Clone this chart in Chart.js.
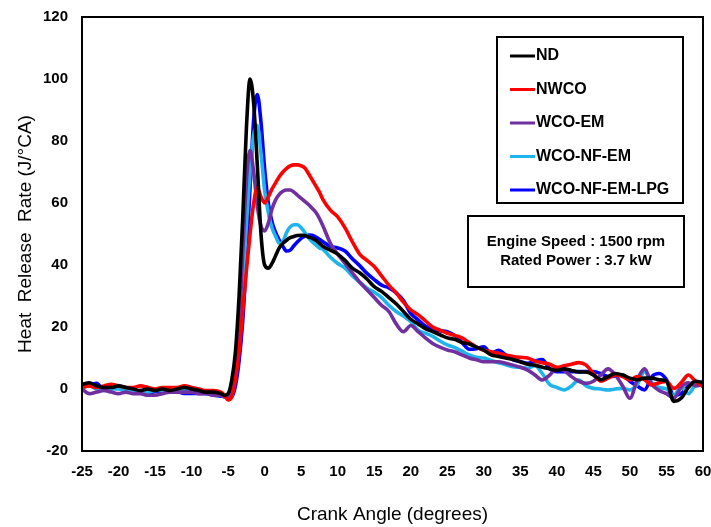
<!DOCTYPE html>
<html>
<head>
<meta charset="utf-8">
<script src="https://cdn.jsdelivr.net/npm/chart.js@4.4.1/dist/chart.umd.min.js"></script>
<style>
  html, body { margin: 0; padding: 0; background: #fff; }
  #wrap { width: 711px; height: 527px; }
</style>
</head>
<body>
<div id="wrap"><canvas id="hrr" width="711" height="527"></canvas></div>
<script>
// Crank angle grid (degrees): coarse before ignition, fine around the peak, 1 deg afterwards
const crankAngle = [
  -25,-24,-23,-22,-21,-20,-19,-18,-17,-16,-15,-14,-13,-12,-11,-10,-9,-8,-7,-6,
  -5.5,-5,-4.5,-4,-3.5,-3,-2.5,-2,-1.5,-1,-0.5,0,0.5,1,1.5,2,2.5,3,3.5,4,4.5,5,5.5,6,6.5,7,7.5,8,
  9,10,11,12,13,14,15,16,17,18,19,20,21,22,23,24,25,26,27,28,29,30,31,32,33,34,
  35,36,37,38,39,40,41,42,43,44,45,46,47,48,49,50,51,52,53,54,55,56,57,58,59,60
];

// Heat release rate (J/°CA) for each fuel
const hrrND = [
  1.5,2.0,1.0,0.5,0.5,1.0,0.5,0.0,-0.5,0.0,-0.5,0.0,-0.5,0.0,0.5,0.0,-0.5,-1.0,-1.0,-1.5,
  -2.0,-1.5,3,12,30,55,84,100,92,72,50,40,39,40.5,43,45.5,47,48,48.8,49.2,49.5,49.6,49.5,49,48.6,48,47,46,
  44.8,43.5,41.5,39,37.5,35.5,33,31.5,29.5,27.5,25,22.5,21,19.5,18.5,17.5,16.5,16,15,14.5,13.5,12.5,11,10.5,10,9.5,
  8.8,8,7.7,7,6.5,6,6.5,6,5.5,5.5,4.5,3,4,5,4.5,3.5,3,3.5,3.5,3,2.5,-4,-3,0.5,2.5,2
];
const hrrNWCO = [
  0.5,1.0,0.5,1.0,1.5,1.0,0.5,0.5,1.0,0.5,0.0,0.5,0.5,0.5,1.0,0.5,0.0,-0.5,-0.5,-1.0,
  -2,-3.5,-2.5,3,12,25,38,50,60,65,62,60,62,64.5,66.5,68.5,70,71.2,72,72.3,72.3,72,71.3,69.5,67.5,65.5,63.5,61,
  57.7,55.5,52,47.5,43.5,41.5,39.5,36.5,33.5,31,28,25.5,24,22,20,19,18,17.3,16.5,15,13.5,12.5,12,11.5,11,10.5,
  10.2,10,9,8.5,8,7,7.5,8,8.5,7.7,5,2.5,3.5,4.5,4,2.9,4,3,1.3,2,2.4,0.2,2,4.5,2.4,0.8
];
const hrrWCOEM = [
  0,-1.5,-1,-0.5,-1,-1.5,-1,-1.5,-1.5,-2,-2,-1.5,-1,-1,-1,-1,-1.5,-1.5,-2,-2,
  -2.5,-2.5,0,6,20,44,67,77,70,59,52.5,51,53.5,58,61,62.8,63.8,64.2,64.2,63.5,62.5,61.5,60.5,59.5,58.3,57,55,52.5,
  47,43.5,40.5,37.5,34.5,32,29.5,27,25,21,18.5,20.5,18.5,16.5,14.7,13.5,12.6,12,11,10,9.4,8.8,8.8,8.8,8.3,7.7,
  7,6.1,4.5,2.9,4.5,6.7,6,4,2.5,1.8,2.5,4.5,6.5,4.5,1,-3,3,6.5,1.5,-0.5,-1.5,-3,0.5,2,1,1.5
];
const hrrWCONFEM = [
  0.5,1.0,0.0,-0.5,0.0,0.0,-0.5,-0.5,-1.0,-1.0,-0.5,-0.5,-1.0,-1.0,-0.5,-1.0,-1.0,-1.5,-1.5,-2.0,
  -2.5,-2,1,6,16,33,53,70,82,85,76,64,57,52,49.3,47,47.5,50.5,52.3,53,53,52,50.5,48.8,47.5,46.5,45.5,45,
  42.5,40.5,39,36.5,34.5,32.5,31.2,29.5,27,25,23.5,21.7,19,18,17,15.5,14.2,13.4,12.2,11,10.2,10,9.2,8.5,7.8,7.2,
  7,6.7,7.5,5,1.5,0.5,-0.3,1,2.9,1,0.2,0,-0.3,0,0.2,-0.3,1.5,5.6,2,0.5,0,-2,0.8,-1.5,1.5,2.5
];
const hrrWCONFEMLPG = [
  0.3,1.3,1.8,-0.3,0.7,0.7,-0.3,-0.9,-0.5,-1.4,-0.9,-0.9,-0.9,-0.9,-1.4,-1.4,-1.4,-1.4,-2.0,-2.3,
  -2.5,-3,-2.5,1,9,22,42,65,87,95,86,71,60,54,50.5,48,46,44.5,44.8,46.2,47.5,48.6,49.3,49.7,49.6,49,48.3,47.5,
  46,45.5,44.5,42,39.8,37.3,35.3,33.5,32.6,31,28.5,24.4,22.3,20.3,19.2,18.8,18.5,17.3,15,12.8,13,13.6,11.5,12.5,11,9.4,
  8.8,8.3,9,9.5,6.5,5.6,5.6,5.6,5.6,5.6,5.6,5,4,4.2,4.5,2.5,1,-0.3,4,5,3,-2,-1.5,1,2.4,1.8
];

const seriesNames = ['ND', 'NWCO', 'WCO-EM', 'WCO-NF-EM', 'WCO-NF-EM-LPG'];
const seriesValues = [hrrND, hrrNWCO, hrrWCOEM, hrrWCONFEM, hrrWCONFEMLPG];
const seriesColors = ['#000000', '#ff0000', '#7030a0', '#1fb4ec', '#0000ff'];

const xTicks = [-25,-20,-15,-10,-5,0,5,10,15,20,25,30,35,40,45,50,55,60];
const yTicks = [-20,0,20,40,60,80,100,120];
const infoLines = ['Engine Speed : 1500 rpm', 'Rated Power : 3.7 kW'];

const FONT = '"Liberation Sans", Arial, sans-serif';

const datasets = seriesNames.map((name, i) => ({
  label: name,
  data: crankAngle.map((a, k) => ({ x: a, y: seriesValues[i][k] })),
  borderColor: seriesColors[i],
  backgroundColor: seriesColors[i],
  borderWidth: 3.6,
  pointRadius: 0,
  cubicInterpolationMode: 'monotone',
  fill: false
}));

// Frame around the plot, boxed legend and the test-condition note
const decorations = {
  id: 'decorations',
  afterDatasetsDraw(chart) {
    const ctx = chart.ctx;
    const a = chart.chartArea;
    ctx.save();
    ctx.strokeStyle = '#000';
    ctx.lineWidth = 2;
    ctx.strokeRect(a.left, a.top, a.right - a.left, a.bottom - a.top);

    // legend box
    const lx = 497, ly = 37, lw = 186, lh = 166;
    ctx.fillStyle = '#fff';
    ctx.fillRect(lx, ly, lw, lh);
    ctx.strokeRect(lx, ly, lw, lh);
    ctx.font = 'bold 16px ' + FONT;
    ctx.textBaseline = 'middle';
    ctx.textAlign = 'left';
    chart.data.datasets.forEach((ds, i) => {
      const y = ly + 19 + i * 33.5;
      ctx.strokeStyle = ds.borderColor;
      ctx.lineWidth = 3;
      ctx.beginPath();
      ctx.moveTo(lx + 13, y);
      ctx.lineTo(lx + 38, y);
      ctx.stroke();
      ctx.fillStyle = '#000';
      ctx.fillText(ds.label, lx + 39, y);
    });

    // info box
    const bx = 468, by = 216, bw = 216, bh = 71;
    ctx.fillStyle = '#fff';
    ctx.fillRect(bx, by, bw, bh);
    ctx.strokeStyle = '#000';
    ctx.lineWidth = 2;
    ctx.strokeRect(bx, by, bw, bh);
    ctx.fillStyle = '#000';
    ctx.font = 'bold 15px ' + FONT;
    ctx.textAlign = 'center';
    infoLines.forEach((t, i) => ctx.fillText(t, bx + bw / 2, by + 26 + i * 19));
    ctx.restore();
  }
};

new Chart(document.getElementById('hrr'), {
  type: 'line',
  data: { datasets },
  options: {
    responsive: false,
    animation: false,
    layout: { padding: { top: 17, right: 8, left: 0, bottom: 0 } },
    plugins: { legend: { display: false }, tooltip: { enabled: false } },
    scales: {
      x: {
        type: 'linear',
        min: -25, max: 60,
        afterBuildTicks: s => { s.ticks = xTicks.map(v => ({ value: v })); },
        afterFit: s => { s.height = 76; s.paddingLeft = 0; s.paddingRight = 0; },
        grid: { display: false, drawTicks: false },
        border: { display: false },
        ticks: { color: '#000', font: { family: FONT, size: 15, weight: 'bold' }, padding: 12, maxRotation: 0 },
        title: { display: true, text: 'Crank Angle (degrees)', color: '#000',
                 font: { family: FONT, size: 19 }, padding: { top: 4, bottom: 1 } }
      },
      y: {
        min: -20, max: 120,
        afterBuildTicks: s => { s.ticks = yTicks.map(v => ({ value: v })); },
        afterFit: s => { s.width = 82; s.paddingTop = 0; s.paddingBottom = 0; },
        grid: { display: false, drawTicks: false },
        border: { display: false },
        ticks: { color: '#000', font: { family: FONT, size: 15, weight: 'bold' }, padding: 14 },
        title: { display: true, text: 'Heat  Release  Rate (J/\u00B0CA)', color: '#000',
                 font: { family: FONT, size: 19 }, padding: { top: 14, bottom: 14 } }
      }
    }
  },
  plugins: [decorations]
});
</script>
</body>
</html>
